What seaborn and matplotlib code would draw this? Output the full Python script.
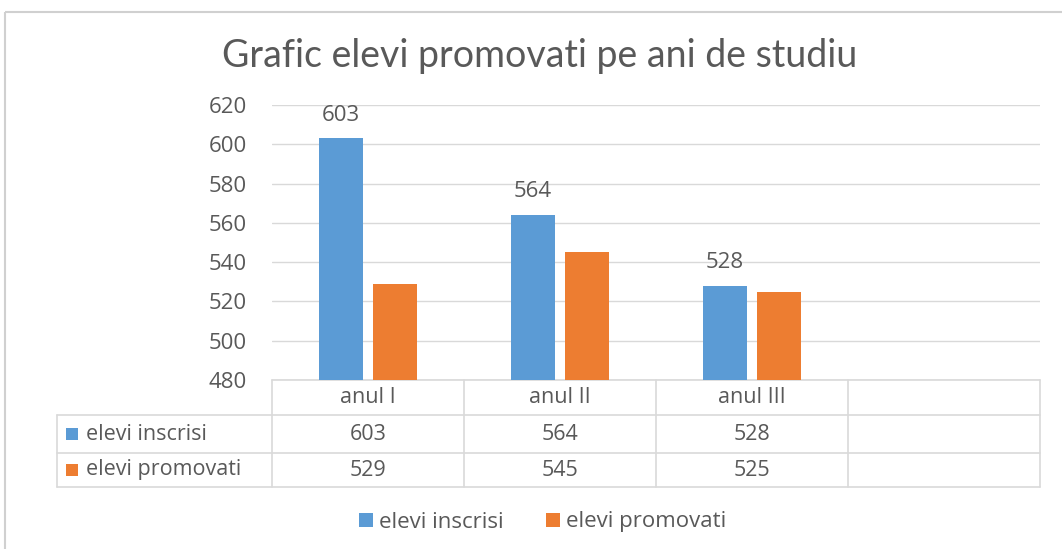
import matplotlib
matplotlib.use("Agg")
import matplotlib.pyplot as plt
import seaborn as sns
import pandas as pd
from matplotlib.lines import Line2D
from matplotlib.patches import Rectangle

# ---- data ----
categories = ["anul I", "anul II", "anul III", ""]
years = ["anul I", "anul II", "anul III"]
inscrisi = [603, 564, 528]
promovati = [529, 545, 525]
series_names = ["elevi inscrisi", "elevi promovati"]
colors = ["#5B9BD5", "#ED7D31"]
y_ticks = [480, 500, 520, 540, 560, 580, 600, 620]
title = "Grafic elevi promovati pe ani de studiu"

df = pd.DataFrame({
    "an": years * 2,
    "serie": [series_names[0]] * len(years) + [series_names[1]] * len(years),
    "valoare": inscrisi + promovati,
})

sns.set_theme(style="white")
plt.rcParams["font.family"] = ["Open Sans", "DejaVu Sans"]
TXT = "#595959"
GRID = "#D9D9D9"

W, H = 1062, 549
fig = plt.figure(figsize=(W / 100, H / 100), dpi=100)
fig.patch.set_facecolor("white")

# outer chart border
ov = fig.add_axes([0, 0, 1, 1], zorder=0)
ov.set_xlim(0, W)
ov.set_ylim(H, 0)
ov.axis("off")
ov.add_patch(Rectangle((5, 12), W + 20, H + 20, fill=False, edgecolor="#D0D0D0", lw=1.5))

ax = fig.add_axes([272 / W, 1 - 380 / H, 768 / W, 275 / H], zorder=2)
ax.patch.set_alpha(0)
sns.barplot(data=df, x="an", y="valoare", hue="serie", order=categories,
            hue_order=series_names, palette=colors, width=0.56, gap=0.18,
            saturation=1, linewidth=0, legend=False, ax=ax)
ax.set_xlim(-0.5, len(categories) - 0.5)
ax.set_ylim(y_ticks[0], y_ticks[-1])
ax.set_yticks(y_ticks)
ax.set_yticklabels([str(t) for t in y_ticks], fontsize=16, color=TXT)
ax.tick_params(axis="y", length=0, pad=18)
ax.set_xticks([])
ax.set_xlabel("")
ax.set_ylabel("")
for s in ax.spines.values():
    s.set_visible(False)
ax.yaxis.grid(True, color=GRID, lw=1)
ax.set_axisbelow(True)

ax.bar_label(ax.containers[0], labels=[str(v) for v in inscrisi], padding=9,
             fontsize=16, color=TXT)

# ---- data table below the axis ----
fig.canvas.draw()
def px_x(xd):
    return ax.transData.transform((xd, y_ticks[0]))[0]
def px_y(yd):
    return H - ax.transData.transform((0, yd))[1]

base = px_y(y_ticks[0])
row_h = [35, 38, 34]
r0 = base
r1 = r0 + row_h[0]
r2 = r1 + row_h[1]
r3 = r2 + row_h[2]
left_x = 57
edges = [px_x(i - 0.5) for i in range(len(categories) + 1)]
lk = dict(color=GRID, lw=1.2, zorder=3)
ov.add_line(Line2D([edges[0], edges[-1]], [r0, r0], **lk))
for yy in (r1, r2, r3):
    ov.add_line(Line2D([left_x, edges[-1]], [yy, yy], **lk))
for xx in edges:
    ov.add_line(Line2D([xx, xx], [r0, r3], **lk))
ov.add_line(Line2D([left_x, left_x], [r1, r3], **lk))

TFS = 15.5
for i, cat in enumerate(categories):
    cx = (edges[i] + edges[i + 1]) / 2
    ov.text(cx, (r0 + r1) / 2, cat, ha="center", va="center", fontsize=TFS, color=TXT)
for j, (name, vals) in enumerate(zip(series_names, [inscrisi, promovati])):
    yc = ((r1 + r2) / 2, (r2 + r3) / 2)[j]
    ov.add_patch(Rectangle((66, yc - 6), 12, 12, facecolor=colors[j], edgecolor="none"))
    ov.text(86, yc, name, ha="left", va="center", fontsize=TFS, color=TXT)
    for i, v in enumerate(vals):
        cx = (edges[i] + edges[i + 1]) / 2
        ov.text(cx, yc, str(v), ha="center", va="center", fontsize=TFS, color=TXT)

# title
fig.text(540 / W, 1 - 56 / H, title, ha="center", va="center", fontsize=27,
         color=TXT, family=["Lato", "DejaVu Sans"])

# legend
handles = [Rectangle((0, 0), 1, 1, facecolor=c, edgecolor="none") for c in colors]
fig.legend(handles, series_names, loc="center", bbox_to_anchor=(543 / W, 1 - 522 / H),
           ncol=2, frameon=False, handlelength=0.6, handleheight=0.6,
           handletextpad=0.3, columnspacing=1.9, fontsize=16, labelcolor=TXT)

fig.savefig("out.png", dpi=100)
